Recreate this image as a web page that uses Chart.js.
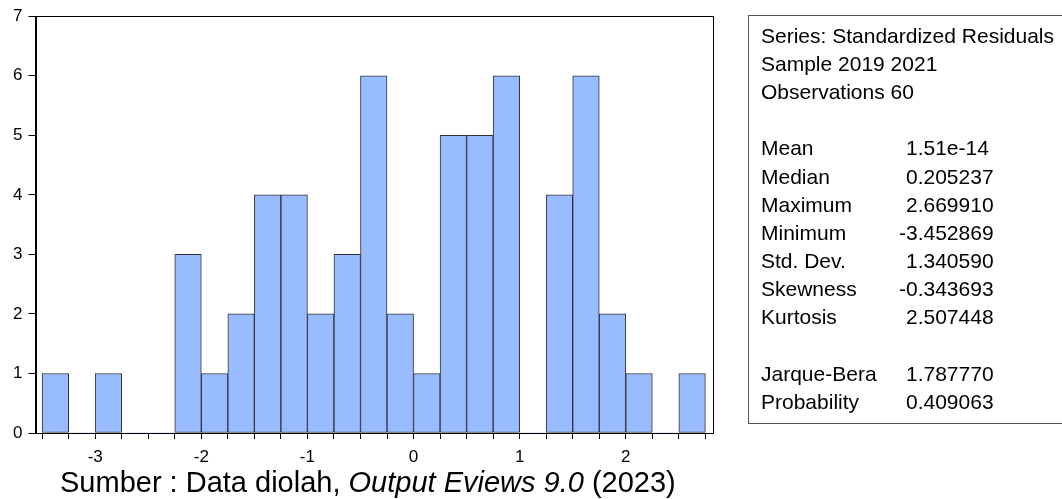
<!DOCTYPE html>
<html>
<head>
<meta charset="utf-8">
<script src="https://cdn.jsdelivr.net/npm/chart.js@4.4.1/dist/chart.umd.min.js"></script>
<style>
  html, body { margin: 0; padding: 0; background: #fff; }
  canvas { display: block; }
</style>
</head>
<body>
<canvas id="chart" width="1062" height="499"></canvas>
<script>
// histogram bins (lower edge) and counts, bin width 0.25
const BIN_WIDTH = 0.25;
const binLower = [-3.5, -3.25, -3.0, -2.75, -2.5, -2.25, -2.0, -1.75, -1.5, -1.25,
                  -1.0, -0.75, -0.5, -0.25, 0.0, 0.25, 0.5, 0.75, 1.0, 1.25,
                  1.5, 1.75, 2.0, 2.25, 2.5];
const counts   = [1, 0, 1, 0, 0, 3, 1, 2, 4, 4,
                  2, 3, 6, 2, 1, 5, 5, 6, 0, 4,
                  6, 2, 1, 0, 1];
const xTicks = [-3.5, -3.25, -3, -2.75, -2.5, -2.25, -2, -1.75, -1.5, -1.25, -1,
                -0.75, -0.5, -0.25, 0, 0.25, 0.5, 0.75, 1, 1.25, 1.5, 1.75, 2,
                2.25, 2.5, 2.75];
const xLabels = [-3, -2, -1, 0, 1, 2];

const statHeader = ["Series: Standardized Residuals", "Sample 2019 2021", "Observations 60"];
const statNames  = ["Mean", "Median", "Maximum", "Minimum", "Std. Dev.", "Skewness", "Kurtosis"];
const statValues = ["1.51e-14", "0.205237", "2.669910", "-3.452869", "1.340590", "-0.343693", "2.507448"];
const testNames  = ["Jarque-Bera", "Probability"];
const testValues = ["1.787770", "0.409063"];

const FONT = "'Liberation Sans', Arial, sans-serif";

const ctx = document.getElementById("chart").getContext("2d");

const extras = {
    id: "extras",
    afterDraw(chart) {
        const c = chart.ctx;
        const a = chart.chartArea;
        c.save();
        // plot frame
        c.strokeStyle = "#000";
        c.lineWidth = 1;
        c.strokeRect(Math.round(a.left) + 0.5, Math.round(a.top) + 0.5,
                     Math.round(a.right - a.left), Math.round(a.bottom - a.top));

        // stats box
        c.strokeStyle = "#555";
        c.strokeRect(748.5, 15.5, 400, 408);
        c.fillStyle = "#000";
        c.font = "21px " + FONT;
        c.textBaseline = "middle";
        const step = 28.15;
        let y0 = 37;
        statHeader.forEach((t, i) => c.fillText(t, 761, y0 + step * i));
        const minusW = c.measureText("-").width;
        const putVal = (v, y) => {
            let x = 906;
            if (v[0] == "-") x -= minusW;
            c.fillText(v, x, y);
        };
        statNames.forEach((t, i) => {
            const y = y0 + step * (i + 4);
            c.fillText(t, 761, y);
            putVal(statValues[i], y);
        });
        testNames.forEach((t, i) => {
            const y = y0 + step * (i + 12);
            c.fillText(t, 761, y);
            putVal(testValues[i], y);
        });

        // source caption
        c.textBaseline = "alphabetic";
        let x = 60;
        const by = 492;
        const parts = [["Sumber : Data diolah, ", ""], ["Output Eviews 9.0", "italic "], [" (2023)", ""]];
        parts.forEach(p => {
            c.font = p[1] + "29px " + FONT;
            c.fillText(p[0], x, by);
            x += c.measureText(p[0]).width;
        });
        c.restore();
    }
};

new Chart(ctx, {
    type: "bar",
    data: {
        datasets: [{
            data: binLower.map((b, i) => ({x: b + BIN_WIDTH / 2, y: counts[i]})),
            backgroundColor: "rgb(153, 187, 255)",
            borderColor: "#333",
            borderWidth: c => counts[c.dataIndex] ? 1 : 0,
            borderSkipped: false,
            barPercentage: 1,
            categoryPercentage: 1
        }]
    },
    options: {
        responsive: false,
        animation: false,
        layout: {padding: {top: 15.5, right: 350, bottom: 0, left: 0}},
        plugins: {legend: {display: false}, tooltip: {enabled: false}},
        scales: {
            x: {
                type: "linear",
                offset: false,
                min: -3.5625,
                max: 2.8125,
                afterBuildTicks: axis => { axis.ticks = xTicks.map(v => ({value: v})); },
                afterFit: axis => { axis.height = 66; },
                ticks: {
                    autoSkip: false,
                    maxRotation: 0,
                    padding: 8,
                    color: "#000",
                    font: {family: FONT, size: 17},
                    callback: v => xLabels.includes(v) ? String(v) : ""
                },
                grid: {offset: false, drawOnChartArea: false, drawTicks: true, tickLength: 6, color: "#000"},
                border: {display: true, color: "#000"}
            },
            y: {
                min: 0,
                max: 7,
                afterFit: axis => { axis.width = 35.5; },
                ticks: {
                    stepSize: 1,
                    padding: 6,
                    color: "#000",
                    font: {family: FONT, size: 17}
                },
                grid: {drawOnChartArea: false, drawTicks: true, tickLength: 7, color: "#000"},
                border: {display: true, color: "#000"}
            }
        }
    },
    plugins: [extras]
});
</script>
</body>
</html>
